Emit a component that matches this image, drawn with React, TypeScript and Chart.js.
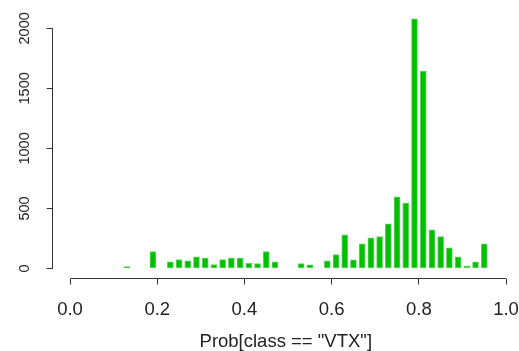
import React, { useEffect, useRef } from "react";
import { Chart, registerables } from "chart.js";

Chart.register(...registerables);

// Histogram bins (left edges) and counts
const binStarts = [
  0.0, 0.02, 0.04, 0.06, 0.08, 0.1, 0.12, 0.14, 0.16, 0.18,
  0.2, 0.22, 0.24, 0.26, 0.28, 0.3, 0.32, 0.34, 0.36, 0.38,
  0.4, 0.42, 0.44, 0.46, 0.48, 0.5, 0.52, 0.54, 0.56, 0.58,
  0.6, 0.62, 0.64, 0.66, 0.68, 0.7, 0.72, 0.74, 0.76, 0.78,
  0.8, 0.82, 0.84, 0.86, 0.88, 0.9, 0.92, 0.94, 0.96, 0.98,
];
const counts = [
  0, 0, 0, 0, 0, 0, 15, 0, 0, 141,
  0, 55, 75, 64, 97, 86, 33, 75, 86, 86,
  44, 40, 141, 55, 0, 0, 40, 30, 0, 64,
  116, 280, 72, 205, 255, 265, 373, 597, 545, 2080,
  1643, 321, 265, 172, 97, 22, 55, 205, 0, 0,
];
const binWidth = 0.02;
const xTicks = [0, 0.2, 0.4, 0.6, 0.8, 1.0];
const yTicks = [0, 500, 1000, 1500, 2000];
const xTitle = 'Prob[class == "VTX"]';

const FONT = '"Liberation Sans", Arial, Helvetica, sans-serif';
const INK = "#222222";
const AXIS = "#333333";

const rAxesPlugin = {
  id: "rAxes",
  afterDraw(chart: any) {
    const { ctx, chartArea } = chart;
    const xs = chart.scales.x;
    const ys = chart.scales.y;
    const align = (p: number) => Math.round(p - 0.5) + 0.5;
    ctx.save();
    ctx.strokeStyle = AXIS;
    ctx.lineWidth = 1;
    ctx.beginPath();
    const lx = align(chartArea.left);
    ctx.moveTo(lx, align(ys.getPixelForValue(yTicks[0])));
    ctx.lineTo(lx, align(ys.getPixelForValue(yTicks[yTicks.length - 1])));
    const by = align(chartArea.bottom);
    ctx.moveTo(align(xs.getPixelForValue(xTicks[0])), by);
    ctx.lineTo(align(xs.getPixelForValue(xTicks[xTicks.length - 1])), by);
    ctx.stroke();
    ctx.restore();
  },
};

export default function App() {
  const ref = useRef<HTMLCanvasElement | null>(null);

  useEffect(() => {
    if (!ref.current) return;
    const data = binStarts.map((b, i) => ({ x: b + binWidth / 2, y: counts[i] }));
    const chart = new Chart(ref.current, {
      type: "bar",
      data: {
        datasets: [
          {
            data: data as any,
            backgroundColor: "#00c000",
            borderColor: "#5fd65f",
            borderWidth: 1,
            borderSkipped: false,
            barThickness: 6,
          } as any,
        ],
      },
      plugins: [rAxesPlugin],
      options: {
        responsive: false,
        animation: false,
        events: [],
        layout: { padding: { top: 8.4, right: 0, bottom: 0, left: 0 } },
        plugins: { legend: { display: false }, tooltip: { enabled: false } },
        scales: {
          x: {
            type: "linear",
            min: -0.04,
            max: 1.0297,
            offset: false,
            afterBuildTicks: (s: any) => {
              s.ticks = xTicks.map((v) => ({ value: v }));
            },
            afterFit: (s: any) => {
              s.height = 72.5;
              s.paddingLeft = 0;
              s.paddingRight = 0;
            },
            border: { display: false },
            grid: {
              offset: false,
              drawOnChartArea: false,
              drawTicks: true,
              tickLength: 6,
              color: AXIS,
              lineWidth: 1,
            },
            ticks: {
              autoSkip: false,
              maxRotation: 0,
              minRotation: 0,
              padding: 14,
              color: INK,
              font: { family: FONT, size: 18.5 },
              callback: (v: any) => Number(v).toFixed(1),
            },
            title: {
              display: true,
              text: xTitle,
              color: INK,
              font: { family: FONT, size: 18.5 },
              padding: { top: 0, bottom: -2.5 },
            },
          },
          y: {
            type: "linear",
            min: -83.3,
            max: 2166,
            afterBuildTicks: (s: any) => {
              s.ticks = yTicks.map((v) => ({ value: v }));
            },
            afterFit: (s: any) => {
              s.width = 52.6;
              s.paddingTop = 0;
              s.paddingBottom = 0;
            },
            border: { display: false },
            grid: {
              drawOnChartArea: false,
              drawTicks: true,
              tickLength: 6,
              color: AXIS,
              lineWidth: 1,
            },
            ticks: {
              autoSkip: false,
              minRotation: 90,
              maxRotation: 90,
              crossAlign: "center",
              padding: 5,
              color: INK,
              font: { family: FONT, size: 14.5 },
              callback: (v: any) => String(v),
            },
          },
        },
      } as any,
    });
    return () => chart.destroy();
  }, []);

  return (
    <div style={{ position: "fixed", left: 0, top: 0, width: 519, height: 351, background: "#fff" }}>
      <canvas ref={ref} width={519} height={351} style={{ display: "block" }} />
    </div>
  );
}
